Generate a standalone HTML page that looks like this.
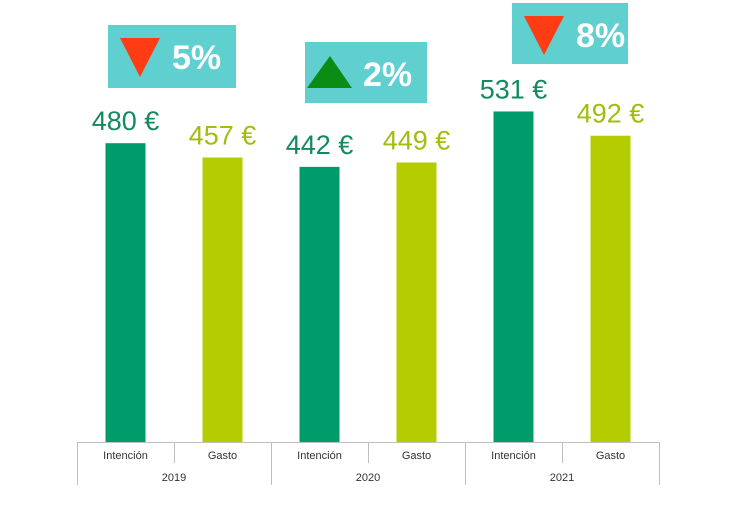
<!DOCTYPE html>
<html><head><meta charset="utf-8"><style>
body{margin:0;background:#fff;width:750px;height:500px;overflow:hidden}
svg text{font-family:"Liberation Sans",sans-serif}
</style></head><body>
<svg id="chart" width="750" height="500" viewBox="0 0 750 500"></svg>
<script>
const years=["2019","2020","2021"];
const subCats=["Intención","Gasto"];
const intencion=[480,442,531];
const gasto=[457,449,492];
const changes=["5%","2%","8%"];
const directions=["down","up","down"];

const svg=document.getElementById('chart');
const NS='http://www.w3.org/2000/svg';
function mk(tag,attrs,parent){const e=document.createElementNS(NS,tag);for(const k in attrs)e.setAttribute(k,attrs[k]);(parent||svg).appendChild(e);return e;}
const base=442,x0=77,groupW=194,barW=40;
function yScale(v){return base-v*0.6225;}
function xCenter(g,s){return x0+g*groupW+s*97+48.5;}
const colors=["#009b6a","#b4cc00"],txtColors=["#138a5e","#a4bb10"];
years.forEach((yr,g)=>{
  [intencion,gasto].forEach((arr,s)=>{
    const v=arr[g],cx=xCenter(g,s),y=yScale(v);
    const r=mk('rect',{x:cx-barW/2,y:y,width:barW,height:base-y,fill:colors[s]});
    
    
    const t=mk('text',{x:cx,y:y-13,'text-anchor':'middle','font-size':27,fill:txtColors[s]});
    t.textContent=v+' €';
    
    
  });
});
// axis
const ax=mk('g',{stroke:'#bfbfbf','stroke-width':1});


mk('line',{x1:x0,y1:base+0.5,x2:x0+3*groupW,y2:base+0.5},ax);
for(let g=0;g<=3;g++){mk('line',{x1:x0+g*groupW+0.5,y1:base,x2:x0+g*groupW+0.5,y2:485},ax);}
years.forEach((yr,g)=>{
  mk('line',{x1:x0+g*groupW+97.5,y1:base,x2:x0+g*groupW+97.5,y2:463},ax);
  subCats.forEach((c,s)=>{
    const t=mk('text',{x:xCenter(g,s),y:459,'text-anchor':'middle','font-size':11,fill:'#333'});
    t.textContent=c;
    
    
  });
  const t=mk('text',{x:x0+g*groupW+97,y:481,'text-anchor':'middle','font-size':11,fill:'#333'});
  t.textContent=yr;
  
  
});
// badges
const boxes=[[108,25,128,63],[305,42,122,61],[512,3,116,61]];
changes.forEach((c,i)=>{
  const [bx,by,bw,bh]=boxes[i];
  const g=mk('g',{});
  
  
  mk('rect',{x:bx,y:by,width:bw,height:bh,fill:'#5fcfd0'},g);
  if(directions[i]==='down'){
    mk('polygon',{points:`${bx+12},${by+13} ${bx+52},${by+13} ${bx+32},${by+52}`,fill:'#ff3c14'},g);
  }else{
    mk('polygon',{points:`${bx+2},${by+46} ${bx+47},${by+46} ${bx+25},${by+14}`,fill:'#0b8c14'},g);
  }
  const t=mk('text',{x:bx+(directions[i]==='down'?64:58),y:by+44,'font-size':34,'font-weight':'bold',fill:'#fff'},g);
  t.textContent=c;
});
</script>
</body></html>
